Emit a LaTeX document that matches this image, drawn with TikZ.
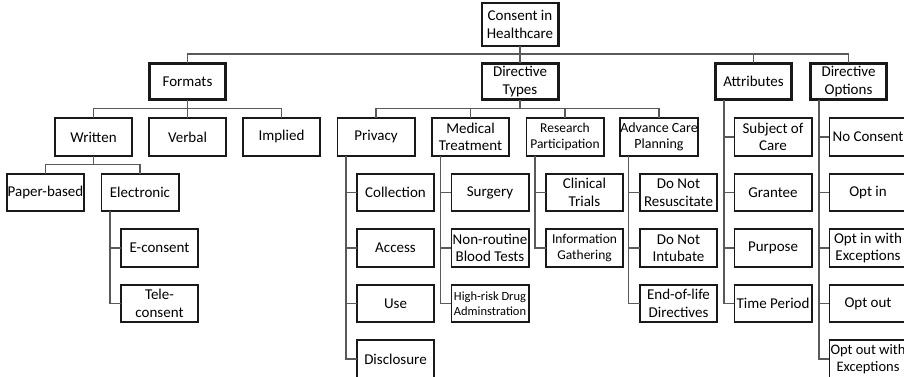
\documentclass[tikz,border=0pt]{standalone}
\usepackage{fontspec}
\setmainfont{Carlito}
\usetikzlibrary{positioning}

\begin{document}
\begin{tikzpicture}[
  x=1pt, y=-1pt,
  font=\fontsize{15}{17.5}\selectfont,
  box/.style={rectangle, draw=black!90, line width=1.6pt, fill=white,
              minimum width=77.4pt, minimum height=37.5pt, inner sep=0.5pt,
              outer sep=0pt, align=center},
  head/.style={box, line width=2.6pt, minimum width=76.4pt, minimum height=36.5pt},
  top/.style={head, minimum height=43pt},
  sm/.style={font=\fontsize{13.5}{16}\selectfont},
  xs/.style={font=\fontsize{12.5}{14.5}\selectfont},
  link/.style={draw=black!65, line width=1.4pt}
]
\useasboundingbox (0,0) rectangle (904,377);

% ---------------- root and first level ----------------
\node[top] (root) at (520,24.5) {Consent in\\Healthcare};
\node[head] (formats) at (187.5,81.5) {Formats};
\node[head] (dtypes) at (520,81.5) {Directive\\Types};
\node[head] (attr) at (753.5,81.5) {Attributes};
\node[head] (dopts) at (848.5,81.5) {Directive\\Options};

% ---------------- second level ----------------
\node[box] (written) at (93.5,137) {Written};
\node[box] (verbal) at (187.5,137) {Verbal};
\node[box] (implied) at (281.5,137) {Implied};
\node[box] (privacy) at (376,137) {Privacy};
\node[box] (medical) at (470.5,137) {Medical\\Treatment};
\node[box, sm] (research) at (565,137) {Research\\Participation};
\node[box, font=\fontsize{14}{16.5}\selectfont] (advance) at (659,137) {Advance Care\\Planning};

% ---------------- formats ----------------
\node[box] (paper) at (45.5,192.5) {Paper-based};
\node[box] (electronic) at (140,192.5) {Electronic};
\node[box] (econsent) at (159.5,248) {E-consent};
\node[box, below=18pt of econsent] (tele) {Tele-\\consent};

% ---------------- directive types ----------------
\node[box] (collection) at (395.5,192.5) {Collection};
\node[box, below=18pt of collection] (access) {Access};
\node[box, below=18pt of access] (use) {Use};
\node[box, below=18pt of use] (disclosure) {Disclosure};

\node[box] (surgery) at (490,192.5) {Surgery};
\node[box, below=18pt of surgery] (blood) {Non-routine\\Blood Tests};
\node[box, xs, below=18pt of blood] (drug) {High-risk Drug\\Adminstration};

\node[box] (trials) at (584.5,192.5) {Clinical\\Trials};
\node[box, sm, below=18pt of trials] (gather) {Information\\Gathering};

\node[box] (dnr) at (678.5,192.5) {Do Not\\Resuscitate};
\node[box, below=18pt of dnr] (dni) {Do Not\\Intubate};
\node[box, below=18pt of dni] (eol) {End-of-life\\Directives};

% ---------------- attributes and options ----------------
\node[box] (subject) at (773,137) {Subject of\\Care};
\node[box, below=18pt of subject] (grantee) {Grantee};
\node[box, below=18pt of grantee] (purpose) {Purpose};
\node[box, below=18pt of purpose] (period) {Time Period};

\node[box] (noconsent) at (868,137) {No Consent};
\node[box, below=18pt of noconsent] (optin) {Opt in};
\node[box, below=18pt of optin] (optinex) {Opt in with\\Exceptions};
\node[box, below=18pt of optinex] (optout) {Opt out};
\node[box, font=\fontsize{14.5}{17}\selectfont, below=18pt of optout] (optoutex) {Opt out with\\Exceptions};

% ---------------- connectors ----------------
\draw[link] (root.south) -- ++(0,8) coordinate (rbus);
\foreach \n in {formats,dtypes,attr,dopts}
  \draw[link] (rbus) -| (\n.north);

\draw[link] (formats.south) -- ++(0,9) coordinate (fbus);
\foreach \n in {written,verbal,implied}
  \draw[link] (fbus) -| (\n.north);

\draw[link] (dtypes.south) -- ++(0,9) coordinate (dbus);
\foreach \n in {privacy,medical,research,advance}
  \draw[link] (dbus) -| (\n.north);

\draw[link] (written.south) -- ++(0,9) coordinate (wbus);
\foreach \n in {paper,electronic}
  \draw[link] (wbus) -| (\n.north);

\foreach \n in {econsent,tele}
  \draw[link] ([xshift=8.5pt]electronic.south west) |- (\n.west);
\foreach \n in {collection,access,use,disclosure}
  \draw[link] ([xshift=8.5pt]privacy.south west) |- (\n.west);
\foreach \n in {surgery,blood,drug}
  \draw[link] ([xshift=8.5pt]medical.south west) |- (\n.west);
\foreach \n in {trials,gather}
  \draw[link] ([xshift=8.5pt]research.south west) |- (\n.west);
\foreach \n in {dnr,dni,eol}
  \draw[link] ([xshift=8.5pt]advance.south west) |- (\n.west);
\foreach \n in {subject,grantee,purpose,period}
  \draw[link] ([xshift=8.5pt]attr.south west) |- (\n.west);
\foreach \n in {noconsent,optin,optinex,optout,optoutex}
  \draw[link] ([xshift=8.5pt]dopts.south west) |- (\n.west);
\end{tikzpicture}
\end{document}
